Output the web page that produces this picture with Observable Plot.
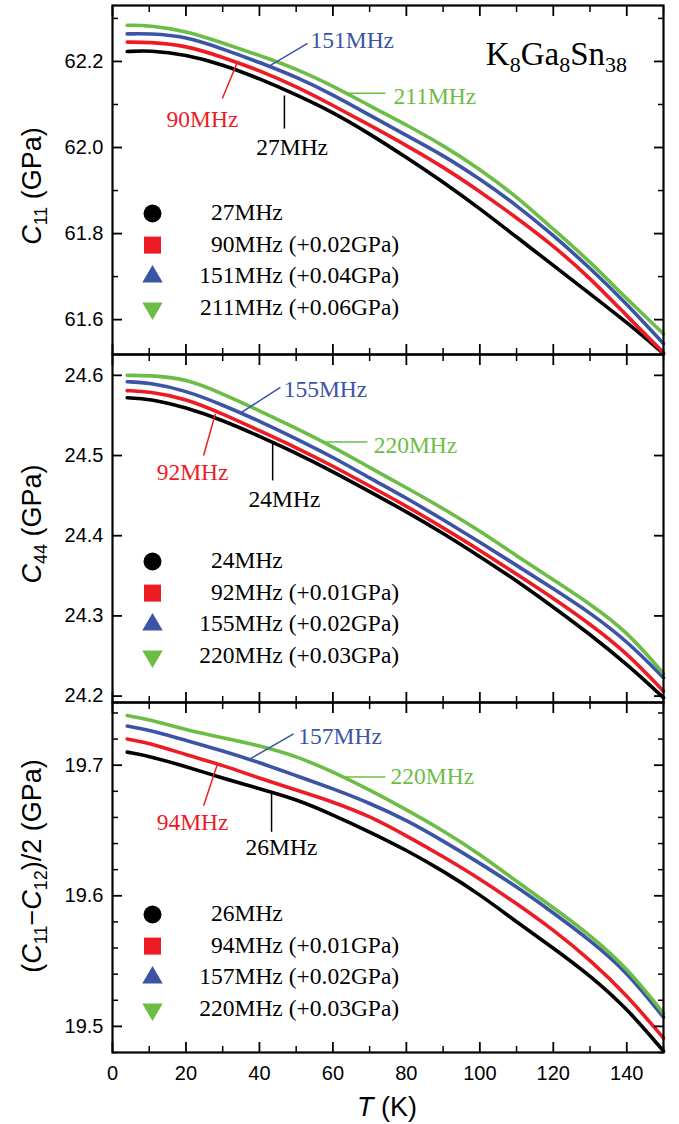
<!DOCTYPE html>
<html>
<head>
<meta charset="utf-8">
<script src="https://cdn.jsdelivr.net/npm/d3@7"></script>
<script src="https://cdn.jsdelivr.net/npm/@observablehq/plot@0.6"></script>
<style>
  body { margin: 0; background: #fff; }
  #chart { width: 679px; }
  #chart svg { display: block; overflow: visible; }
</style>
</head>
<body>
<div id="chart"></div>
<script>
// ---------- data ----------
const temps = [4, 10, 20, 30, 40, 50, 60, 70, 80, 90, 100, 110, 120, 130, 140, 150];

// C11 panel
const c11Freqs = ["27", "90", "151", "211"];
const c11Shifts = ["", " (+0.02GPa)", " (+0.04GPa)", " (+0.06GPa)"];
const c11_27MHz  = [62.223, 62.226, 62.216, 62.193, 62.160, 62.123, 62.082, 62.032, 61.977, 61.920, 61.858, 61.792, 61.726, 61.660, 61.594, 61.521];
const c11_90MHz  = [62.245, 62.245, 62.237, 62.210, 62.179, 62.142, 62.098, 62.052, 62.005, 61.955, 61.898, 61.837, 61.772, 61.697, 61.609, 61.523];
const c11_151MHz = [62.264, 62.265, 62.258, 62.229, 62.198, 62.164, 62.123, 62.075, 62.028, 61.982, 61.927, 61.866, 61.796, 61.720, 61.637, 61.544];
const c11_211MHz = [62.284, 62.284, 62.271, 62.243, 62.214, 62.183, 62.143, 62.097, 62.053, 62.005, 61.950, 61.886, 61.810, 61.735, 61.648, 61.567];
const c11MajorTicks = [61.6, 61.8, 62.0, 62.2];
const c11MinorTicks = [61.7, 61.9, 62.1, 62.3];
const c11Domain = [61.519, 62.330];
const c11Labels = [
  {text: "151MHz", T: 53.9, v: 62.249, anchor: "start", s: 2},
  {text: "90MHz", T: 24.5, v: 62.065, anchor: "middle", s: 1},
  {text: "27MHz", T: 48.9, v: 62.000, anchor: "middle", s: 0},
  {text: "211MHz", T: 76.5, v: 62.119, anchor: "start", s: 3}
];
const c11Leaders = [
  {T1: 43.0, v1: 62.191, T2: 53.1, v2: 62.242, s: 2},
  {T1: 29.9, v1: 62.114, T2: 34.0, v2: 62.198, s: 1},
  {T1: 46.8, v1: 62.121, T2: 46.8, v2: 62.044, s: 0},
  {T1: 63.4, v1: 62.126, T2: 74.3, v2: 62.126, s: 3}
];

// C44 panel
const c44Freqs = ["24", "92", "155", "220"];
const c44Shifts = ["", " (+0.01GPa)", " (+0.02GPa)", " (+0.03GPa)"];
const c44_24MHz  = [24.572, 24.571, 24.560, 24.544, 24.524, 24.503, 24.480, 24.455, 24.430, 24.403, 24.374, 24.344, 24.311, 24.277, 24.240, 24.198];
const c44_92MHz  = [24.581, 24.580, 24.571, 24.552, 24.531, 24.510, 24.487, 24.462, 24.437, 24.410, 24.382, 24.352, 24.322, 24.290, 24.254, 24.206];
const c44_155MHz = [24.592, 24.591, 24.581, 24.563, 24.543, 24.521, 24.498, 24.472, 24.447, 24.420, 24.392, 24.363, 24.334, 24.304, 24.269, 24.223];
const c44_220MHz = [24.600, 24.600, 24.596, 24.577, 24.556, 24.534, 24.511, 24.485, 24.460, 24.434, 24.406, 24.375, 24.345, 24.315, 24.281, 24.228];
const c44MajorTicks = [24.2, 24.3, 24.4, 24.5, 24.6];
const c44MinorTicks = [];
const c44Domain = [24.192, 24.626];
const c44Labels = [
  {text: "155MHz", T: 46.6, v: 24.582, anchor: "start", s: 2},
  {text: "92MHz", T: 21.8, v: 24.479, anchor: "middle", s: 1},
  {text: "24MHz", T: 46.8, v: 24.445, anchor: "middle", s: 0},
  {text: "220MHz", T: 71.1, v: 24.513, anchor: "start", s: 3}
];
const c44Leaders = [
  {T1: 34.8, v1: 24.553, T2: 45.7, v2: 24.585, s: 2},
  {T1: 28.0, v1: 24.552, T2: 24.8, v2: 24.500, s: 1},
  {T1: 43.6, v1: 24.516, T2: 43.6, v2: 24.469, s: 0},
  {T1: 58.0, v1: 24.517, T2: 69.4, v2: 24.517, s: 3}
];

// (C11-C12)/2 panel
const cpFreqs = ["26", "94", "157", "220"];
const cpShifts = ["", " (+0.01GPa)", " (+0.02GPa)", " (+0.03GPa)"];
const cp_26MHz  = [19.710, 19.707, 19.699, 19.690, 19.682, 19.674, 19.662, 19.649, 19.635, 19.619, 19.601, 19.580, 19.560, 19.539, 19.514, 19.481];
const cp_94MHz  = [19.720, 19.717, 19.708, 19.700, 19.690, 19.681, 19.672, 19.661, 19.646, 19.630, 19.613, 19.594, 19.574, 19.551, 19.524, 19.491];
const cp_157MHz = [19.730, 19.727, 19.719, 19.711, 19.702, 19.692, 19.682, 19.671, 19.658, 19.642, 19.625, 19.607, 19.587, 19.566, 19.542, 19.507];
const cp_220MHz = [19.738, 19.735, 19.727, 19.721, 19.715, 19.707, 19.695, 19.681, 19.666, 19.650, 19.632, 19.611, 19.591, 19.570, 19.545, 19.510];
const cpMajorTicks = [19.5, 19.6, 19.7];
const cpMinorTicks = [19.48, 19.52, 19.54, 19.56, 19.58, 19.62, 19.64, 19.66, 19.68, 19.72, 19.74];
const cpDomain = [19.48, 19.748];
const cpLabels = [
  {text: "157MHz", T: 50.6, v: 19.722, anchor: "start", s: 2},
  {text: "94MHz", T: 21.8, v: 19.656, anchor: "middle", s: 1},
  {text: "26MHz", T: 46.0, v: 19.637, anchor: "middle", s: 0},
  {text: "220MHz", T: 75.7, v: 19.691, anchor: "start", s: 3}
];
const cpLeaders = [
  {T1: 37.6, v1: 19.705, T2: 49.3, v2: 19.724, s: 2},
  {T1: 28.6, v1: 19.701, T2: 24.8, v2: 19.669, s: 1},
  {T1: 43.3, v1: 19.679, T2: 43.3, v2: 19.649, s: 0},
  {T1: 62.1, v1: 19.691, T2: 74.3, v2: 19.691, s: 3}
];

const xMajorTicks = [0, 20, 40, 60, 80, 100, 120, 140];
const xMinorTicks = [10, 30, 50, 70, 90, 110, 130, 150];
const xDomain = [0, 150];

// ---------- styles ----------
const colors = ["#000000", "#ed1c24", "#3b54a5", "#6cbd45"];
const sqrt3 = Math.sqrt(3);
const triangleDown = {
  draw(context, size) {
    const y = Math.sqrt(size / (sqrt3 * 3));
    context.moveTo(0, y * 2);
    context.lineTo(sqrt3 * y, -y);
    context.lineTo(-sqrt3 * y, -y);
    context.closePath();
  }
};
const symbols = ["circle", "square", "triangle", triangleDown];
const symbolR = [9, 9.6, 7.6, 7.6];
const SANS = "Liberation Sans, Arial, Helvetica, sans-serif";
const SERIF = "Liberation Serif, Times New Roman, serif";
const W = 679, ML = 112, MR = 16;

function richText(svg, parts, {x, y, rotate = 0, anchor = "middle", family, size, subSize, subShift, fill = "black"}) {
  const t = d3.select(svg).append("text")
    .attr("transform", `translate(${x},${y}) rotate(${rotate})`)
    .attr("text-anchor", anchor)
    .attr("font-family", family)
    .attr("font-size", size)
    .attr("fill", fill);
  let shifted = 0;
  for (const [str, kind] of parts) {
    const span = t.append("tspan").text(str);
    if (kind === "italic") span.attr("font-style", "italic");
    const want = kind === "sub" ? subShift : 0;
    if (want !== shifted) { span.attr("dy", want - shifted); shifted = want; }
    if (kind === "sub") span.attr("font-size", subSize);
  }
  return t;
}

function panel(cfg) {
  const {series, domain, height, marginTop, marginBottom, major, minor, freqs, shifts, legendTop, labels, leaders, showX} = cfg;
  const marks = [];
  // curves
  series.forEach((vals, s) => {
    marks.push(Plot.line(temps.map((t, i) => ({T: t, v: vals[i]})), {
      x: "T", y: "v", stroke: colors[s], strokeWidth: 3.6, curve: "basis"
    }));
  });
  // ticks (inward) on all four sides
  const tickOpts = {tickFormat: () => "", label: null, strokeWidth: 1.8};
  marks.push(
    Plot.axisY(major, {...tickOpts, anchor: "left", tickSize: -10}),
    Plot.axisY(major, {...tickOpts, anchor: "right", tickSize: -10}),
    Plot.axisX(xMajorTicks, {...tickOpts, anchor: "top", tickSize: -10}),
    Plot.axisX(xMajorTicks, {...tickOpts, anchor: "bottom", tickSize: -10}),
    Plot.axisX(xMinorTicks, {...tickOpts, anchor: "top", tickSize: -6, strokeWidth: 1.5}),
    Plot.axisX(xMinorTicks, {...tickOpts, anchor: "bottom", tickSize: -6, strokeWidth: 1.5})
  );
  if (minor.length) {
    marks.push(
      Plot.axisY(minor, {...tickOpts, anchor: "left", tickSize: -6, strokeWidth: 1.5}),
      Plot.axisY(minor, {...tickOpts, anchor: "right", tickSize: -6, strokeWidth: 1.5})
    );
  }
  // tick labels
  marks.push(Plot.axisY(major, {anchor: "left", tickSize: 0, tickPadding: 9, tickFormat: d3.format(".1f"), label: null, fontSize: 20, fontFamily: SANS}));
  if (showX) {
    marks.push(Plot.axisX(xMajorTicks, {anchor: "bottom", tickSize: 0, tickPadding: 13, label: null, fontSize: 20, fontFamily: SANS}));
  }
  // annotations
  leaders.forEach(d => marks.push(Plot.link([d], {x1: "T1", y1: "v1", x2: "T2", y2: "v2", stroke: colors[d.s], strokeWidth: 1.5})));
  labels.forEach(d => marks.push(Plot.text([d], {x: "T", y: "v", text: "text", textAnchor: d.anchor, lineAnchor: "middle", fill: colors[d.s], fontFamily: SERIF, fontSize: 23.5})));
  // legend
  freqs.forEach((f, i) => {
    const dy = legendTop + i * 31.6;
    marks.push(
      Plot.dot([f], {frameAnchor: "top-left", dx: 40, dy: dy + 1, r: symbolR[i], symbol: symbols[i], fill: colors[i], stroke: "none"}),
      Plot.text([f], {frameAnchor: "top-left", dx: 122, dy, text: d => d, textAnchor: "end", lineAnchor: "middle", fill: "black", fontFamily: SERIF, fontSize: 23.5}),
      Plot.text([`MHz${shifts[i]}`], {frameAnchor: "top-left", dx: 122, dy, text: d => d, textAnchor: "start", lineAnchor: "middle", fill: "black", fontFamily: SERIF, fontSize: 23.5})
    );
  });
  marks.push(Plot.frame({stroke: "black", strokeWidth: 2.2}));
  return Plot.plot({
    width: W, height, marginLeft: ML, marginRight: MR, marginTop, marginBottom,
    style: {fontFamily: SANS, fontSize: "20px", overflow: "visible", background: "white", color: "black"},
    x: {domain: xDomain},
    y: {domain},
    marks
  });
}

const chart = document.getElementById("chart");

const p1 = panel({
  series: [c11_27MHz, c11_90MHz, c11_151MHz, c11_211MHz], domain: c11Domain,
  height: 354, marginTop: 5, marginBottom: 0, major: c11MajorTicks, minor: c11MinorTicks,
  freqs: c11Freqs, shifts: c11Shifts, legendTop: 207, labels: c11Labels, leaders: c11Leaders, showX: false
});
richText(p1, [["C", "italic"], ["11", "sub"], [" (GPa)", ""]], {x: 41, y: 186, rotate: -90, family: SANS, size: 27, subSize: 18, subShift: 6});
richText(p1, [["K", ""], ["8", "sub"], ["Ga", ""], ["8", "sub"], ["Sn", ""], ["38", "sub"]], {x: 627, y: 65, anchor: "end", family: SERIF, size: 33, subSize: 22, subShift: 7});
chart.appendChild(p1);

const p2 = panel({
  series: [c44_24MHz, c44_92MHz, c44_155MHz, c44_220MHz], domain: c44Domain,
  height: 348, marginTop: 0, marginBottom: 0, major: c44MajorTicks, minor: c44MinorTicks,
  freqs: c44Freqs, shifts: c44Shifts, legendTop: 206, labels: c44Labels, leaders: c44Leaders, showX: false
});
richText(p2, [["C", "italic"], ["44", "sub"], [" (GPa)", ""]], {x: 41, y: 170, rotate: -90, family: SANS, size: 27, subSize: 18, subShift: 6});
chart.appendChild(p2);

const p3 = panel({
  series: [cp_26MHz, cp_94MHz, cp_157MHz, cp_220MHz], domain: cpDomain,
  height: 422, marginTop: 0, marginBottom: 72, major: cpMajorTicks, minor: cpMinorTicks,
  freqs: cpFreqs, shifts: cpShifts, legendTop: 211, labels: cpLabels, leaders: cpLeaders, showX: true
});
richText(p3, [["(", ""], ["C", "italic"], ["11", "sub"], ["\u2212", ""], ["C", "italic"], ["12", "sub"], [")/2 (GPa)", ""]], {x: 41, y: 164, rotate: -90, family: SANS, size: 27, subSize: 18, subShift: 6});
richText(p3, [["T", "italic"], [" (K)", ""]], {x: 387, y: 414, family: SANS, size: 27, subSize: 18, subShift: 6});
chart.appendChild(p3);
</script>
</body>
</html>
